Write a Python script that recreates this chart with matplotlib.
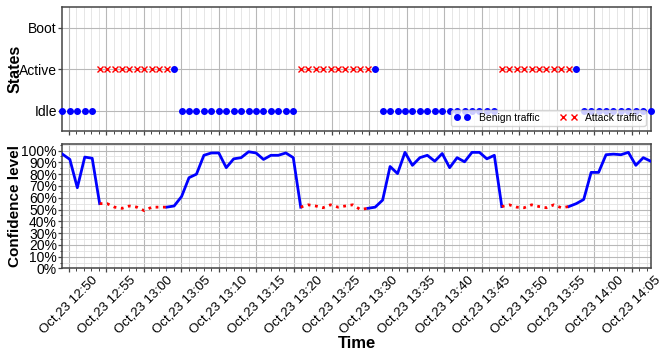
import matplotlib
matplotlib.use("Agg")
import matplotlib.pyplot as plt
import matplotlib.dates as mdates
from matplotlib.ticker import MultipleLocator, FuncFormatter
import numpy as np
import pandas as pd

plt.rcParams['font.family'] = ['Liberation Sans', 'DejaVu Sans']

# one sample roughly every minute
times = pd.date_range('2019-10-23 12:49:10', periods=80, freq='59500ms')

# 0 = Idle, 1 = Active, 2 = Boot
states = [0, 0, 0, 0, 0, 1, 1, 1, 1, 1, 1, 1, 1, 1, 1, 1,
          0, 0, 0, 0, 0, 0, 0, 0, 0, 0, 0, 0, 0, 0, 0, 0,
          1, 1, 1, 1, 1, 1, 1, 1, 1, 1, 1,
          0, 0, 0, 0, 0, 0, 0, 0, 0, 0, 0, 0, 0, 0, 0, 0,
          1, 1, 1, 1, 1, 1, 1, 1, 1, 1, 1,
          0, 0, 0, 0, 0, 0, 0, 0, 0, 0]

# B = benign, A = attack
traffic = list("BBBBB" + "AAAAAAAAAA" + "B" + "BBBBBBBBBBBBBBBB"
               + "AAAAAAAAAA" + "B" + "BBBBBBBBBBBBBBBB"
               + "AAAAAAAAAA" + "B" + "BBBBBBBBBB")

confidence = [97, 92.5, 68.5, 94.5, 93.5, 55, 55, 52, 51, 53,
              52, 49, 52, 52, 52, 53, 61, 77, 80, 96,
              98, 98, 85.5, 93, 94, 99, 98, 92.5, 96, 96,
              98, 94, 52, 54, 53, 51.5, 54, 52, 53, 54,
              50, 51, 52, 58, 86.5, 80.5, 98.5, 87.5, 94, 96,
              91, 97.5, 85.5, 94, 90.5, 98.5, 98.5, 93, 96, 52.5,
              54, 52, 51.5, 54, 52.5, 51.5, 54, 51.5, 52.5, 55,
              58.5, 81.5, 81.5, 96.5, 97, 96.5, 98.5, 87.5, 94, 91]

states = np.array(states, dtype=float)
conf = np.array(confidence, dtype=float)
is_att = np.array([t == "A" for t in traffic])

# blue line skips the inside of attack runs, red dotted covers the runs
inner = is_att.copy()
inner[1:-1] = is_att[1:-1] & is_att[:-2] & is_att[2:]
inner[0] = inner[-1] = False
blue = np.where(inner, np.nan, conf)
red = np.where(is_att, conf, np.nan)

fig, (ax1, ax2) = plt.subplots(2, 1, sharex=True, figsize=(6.64, 3.56), dpi=100)
fig.subplots_adjust(left=0.094, right=0.980, top=0.980, bottom=0.246, hspace=0.106)

ax1.plot(times[~is_att], states[~is_att], 'o', color='blue', ms=4,
         label='Benign traffic', zorder=3, clip_on=False)
ax1.plot(times[is_att], states[is_att], 'x', color='red', ms=4, mew=1,
         label='Attack traffic', zorder=3)
ax1.set_ylim(-0.5, 2.5)
ax1.set_yticks([0, 1, 2])
ax1.set_yticklabels(['Idle', 'Active', 'Boot'])
ax1.set_ylabel('States', fontsize=11.5, fontweight='bold')
ax1.legend(loc='lower right', ncol=2, numpoints=2, fontsize=7.5,
           handlelength=1.6, borderpad=0.3, labelspacing=0.2)

ax2.plot(times, blue, '-', color='blue', lw=2, zorder=3)
ax2.plot(times, red, ':', color='red', lw=2, zorder=4)
ax2.set_ylim(0, 105.3)
ax2.yaxis.set_major_locator(MultipleLocator(10))
ax2.yaxis.set_minor_locator(MultipleLocator(5))
ax2.yaxis.set_major_formatter(FuncFormatter(lambda v, p: '%d%%' % v))
ax2.set_ylabel('Confidence level', fontsize=11, fontweight='bold')
ax2.set_xlabel('Time', fontsize=12, fontweight='bold', labelpad=0)

ax2.set_xlim(times[0], times[-1])
ax2.xaxis.set_major_locator(mdates.MinuteLocator(byminute=range(0, 60, 5)))
ax2.xaxis.set_minor_locator(mdates.MinuteLocator())
ax2.xaxis.set_major_formatter(mdates.DateFormatter('%b,%d %H:%M'))

for ax in (ax1, ax2):
    ax.grid(which='major', color='#b8b8b8', lw=0.8)
    ax.grid(which='minor', color='#e2e2e2', lw=0.6)
    ax.set_axisbelow(True)
    for s in ax.spines.values():
        s.set_color('#444444')
        s.set_linewidth(1.1)
    ax.tick_params(which='major', length=3, width=0.9, color='#444444', labelsize=10)
    ax.tick_params(which='minor', length=1.8, width=0.7, color='#444444')
    ax.tick_params(axis='y', which='major', pad=1)
    ax.yaxis.set_label_coords(-0.068, 0.5)
ax1.yaxis.set_minor_locator(plt.NullLocator())
ax2.tick_params(axis='x', which='major', labelsize=9.5, pad=1)
plt.setp(ax2.get_xticklabels(), rotation=45, ha='center')

fig.savefig('out.png', dpi=100)
